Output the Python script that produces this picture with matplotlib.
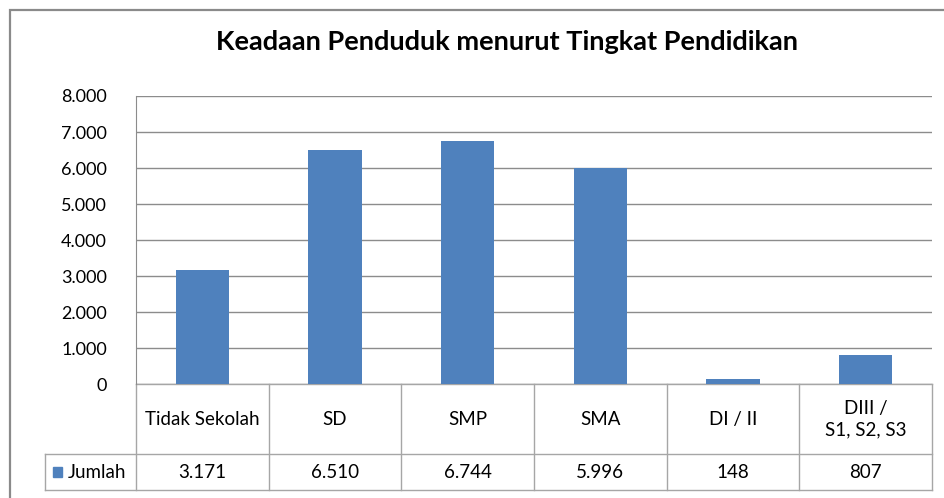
import matplotlib.pyplot as plt
from matplotlib.patches import Rectangle

# data
categories = ['Tidak Sekolah', 'SD', 'SMP', 'SMA', 'DI / II', 'DIII /\nS1, S2, S3']
jumlah = [3171, 6510, 6744, 5996, 148, 807]
value_labels = ['3.171', '6.510', '6.744', '5.996', '148', '807']
yticks = [0, 1000, 2000, 3000, 4000, 5000, 6000, 7000, 8000]
series_name = 'Jumlah'

bar_color = '#4f81bd'
line_color = '#8c8c8c'
plt.rcParams['font.family'] = ['Lato', 'DejaVu Sans']

fig = plt.figure(figsize=(9.44, 4.98), dpi=100)
W, H = 944, 498

# outer chart border (left/top visible, rest cut off)
fig.patches.append(Rectangle((10 / W, -0.1), 1.2, 1 - 10 / H + 0.1, transform=fig.transFigure,
                             fill=False, ec='#8a8a8a', lw=1.6))

ax = fig.add_axes([136 / W, 1 - 384 / H, (932 - 136) / W, (384 - 96) / H])
x = range(len(categories))
ax.bar(x, jumlah, width=0.4, color=bar_color, zorder=3)
ax.set_xlim(-0.5, len(categories) - 0.5)
ax.set_ylim(0, 8000)
ax.set_yticks(yticks)
ax.set_yticklabels([f'{v:,}'.replace(',', '.') for v in yticks], fontsize=13)
ax.tick_params(axis='y', length=0, pad=21)
ax.set_xticks([])
ax.grid(axis='y', color=line_color, lw=1, zorder=0)
for s in ['top', 'right', 'bottom']:
    ax.spines[s].set_visible(False)
ax.spines['left'].set_color(line_color)

fig.text(507 / W, 1 - 42 / H, 'Keadaan Penduduk menurut Tingkat Pendidikan', fontsize=19.5,
         fontweight='bold', ha='center', va='center')

# data table below the plot
tr = ax.get_xaxis_transform()
r1 = -70 / 288
r2 = -106 / 288
leg_left = -0.5 - 91 / ((932 - 136) / len(categories))
n = len(categories)
kw = dict(transform=tr, clip_on=False, color='#a6a6a6', lw=1)
ax.plot([-0.5, n - 0.5], [0, 0], **kw)
ax.plot([leg_left, n - 0.5], [r1, r1], **kw)
ax.plot([leg_left, n - 0.5], [r2, r2], **kw)
ax.plot([leg_left, leg_left], [r1, r2], **kw)
for i in range(n + 1):
    ax.plot([i - 0.5, i - 0.5], [0, r2], **kw)
for i, (c, v) in enumerate(zip(categories, value_labels)):
    ax.text(i, r1 / 2, c, transform=tr, ha='center', va='center', fontsize=13.5,
            linespacing=1.3)
    ax.text(i, (r1 + r2) / 2, v, transform=tr, ha='center', va='center', fontsize=13.5)

# legend key inside the table
ax.add_patch(Rectangle((leg_left + 0.06, (r1 + r2) / 2 - 0.016), 0.07, 0.034, transform=tr,
                       clip_on=False, color=bar_color))
ax.text(leg_left + 0.17, (r1 + r2) / 2, series_name, transform=tr, ha='left', va='center',
        fontsize=13.5)

fig.savefig('out.png', dpi=100)
